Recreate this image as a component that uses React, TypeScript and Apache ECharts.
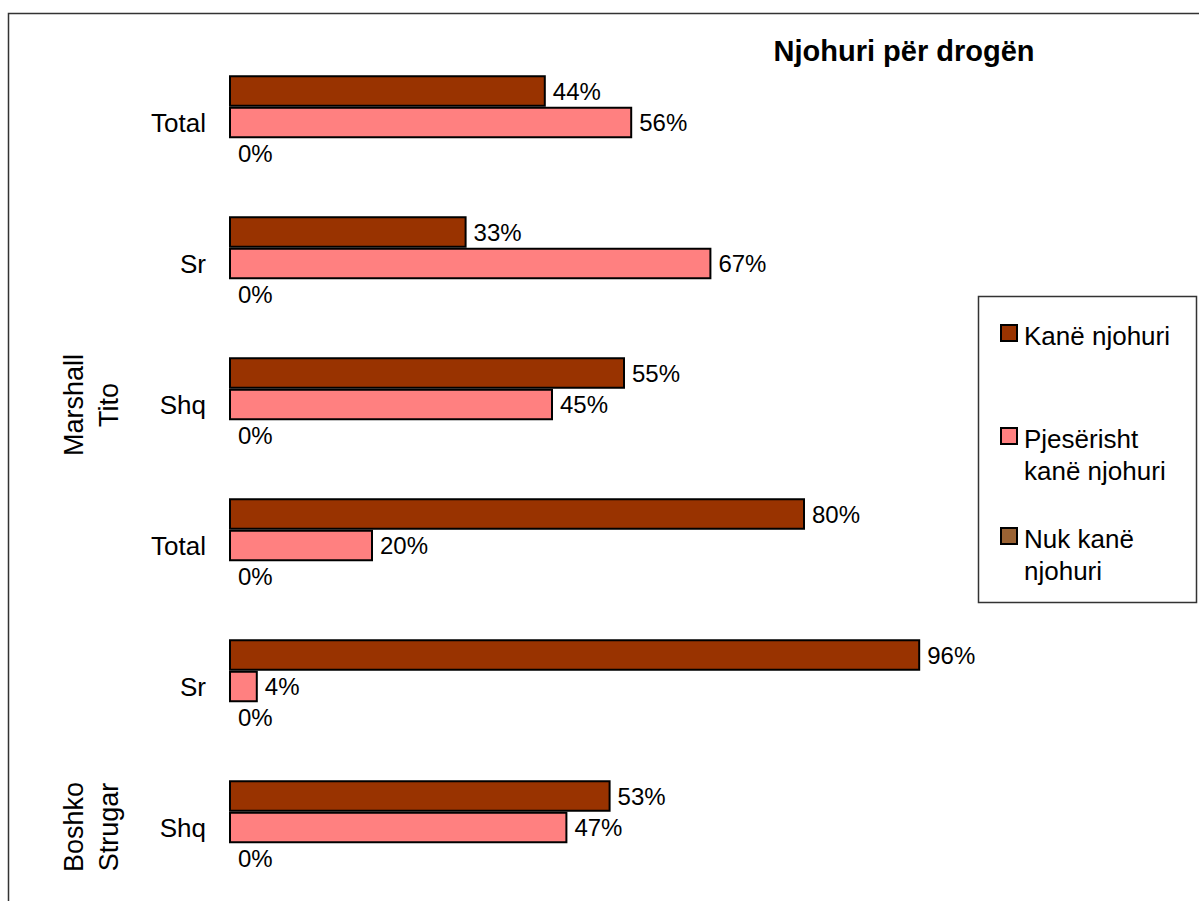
import React, { useEffect, useRef } from "react";
import * as echarts from "echarts";

const categories = ["Total", "Sr", "Shq", "Total", "Sr", "Shq"];
const seriesNames = ["Kanë njohuri", "Pjesërisht\nkanë njohuri", "Nuk kanë\nnjohuri"];
const kaneNjohuri = [44, 33, 55, 80, 96, 53];
const pjeserisht = [56, 67, 45, 20, 4, 47];
const nukKane = [0, 0, 0, 0, 0, 0];
const groupLabels = ["Marshall\nTito", "Boshko\nStrugar"];
const title = "Njohuri për drogën";

const colors = ["#993300", "#FF8080", "#9A6233"];
const FONT = "Liberation Sans, Arial, sans-serif";

export default function App() {
  const ref = useRef<HTMLDivElement>(null);
  useEffect(() => {
    if (!ref.current) return;
    const chart = echarts.init(ref.current, null, { renderer: "svg" });
    const values = [kaneNjohuri, pjeserisht, nukKane];
    const legendItems: any[] = [];
    const legendY = [324, 427, 527];
    seriesNames.forEach((n, i) => {
      legendItems.push({
        type: "rect",
        shape: { x: 1001, y: legendY[i] + 1, width: 16, height: 16 },
        style: { fill: colors[i], stroke: "#000", lineWidth: 2 },
      });
      legendItems.push({
        type: "text",
        x: 1024,
        y: legendY[i] - 4,
        style: {
          text: n,
          font: `26px ${FONT}`,
          fill: "#000",
          lineHeight: 32,
          verticalAlign: "top",
        },
      });
    });
    chart.setOption({
      animation: false,
      textStyle: { fontFamily: FONT },
      grid: { left: 229, right: 250, top: 52, bottom: 3 },
      xAxis: {
        type: "value",
        min: 0,
        max: 100,
        show: false,
      },
      yAxis: {
        type: "category",
        data: categories,
        inverse: true,
        axisLine: { show: false },
        axisTick: { show: false },
        axisLabel: { fontSize: 26, color: "#000", margin: 23, fontFamily: FONT },
      },
      series: values.map((v, i) => ({
        type: "bar",
        name: seriesNames[i],
        data: v,
        barGap: "0%",
        barCategoryGap: "33%",
        itemStyle: {
          color: colors[i],
          borderColor: "#000",
          borderWidth: i === 2 ? 0 : 2,
        },
        label: {
          show: true,
          position: "right",
          distance: i === 2 ? 9 : 7,
          formatter: "{c}%",
          fontSize: 24,
          color: "#000",
          fontFamily: FONT,
        },
      })),
      graphic: [
        {
          type: "rect",
          shape: { x: 8.5, y: 13.5, width: 1300, height: 1000 },
          style: { fill: "none", stroke: "#333", lineWidth: 1.5 },
          silent: true,
        },
        {
          type: "text",
          x: 904,
          y: 51,
          style: {
            text: title,
            font: `bold 29px ${FONT}`,
            fill: "#000",
            align: "center",
            verticalAlign: "middle",
          },
        },
        {
          type: "rect",
          shape: { x: 978.5, y: 296.5, width: 218, height: 306 },
          style: { fill: "#fff", stroke: "#333", lineWidth: 1.5 },
        },
        ...legendItems,
        {
          type: "text",
          x: 91,
          y: 405,
          rotation: Math.PI / 2,
          style: {
            text: groupLabels[0],
            font: `27px ${FONT}`,
            fill: "#000",
            align: "center",
            verticalAlign: "middle",
            lineHeight: 35,
          },
        },
        {
          type: "text",
          x: 91,
          y: 827,
          rotation: Math.PI / 2,
          style: {
            text: groupLabels[1],
            font: `27px ${FONT}`,
            fill: "#000",
            align: "center",
            verticalAlign: "middle",
            lineHeight: 35,
          },
        },
      ],
    });
    return () => chart.dispose();
  }, []);
  return (
    <div
      ref={ref}
      style={{ position: "absolute", left: 0, top: 0, width: 1199, height: 901, background: "#fff" }}
    />
  );
}
